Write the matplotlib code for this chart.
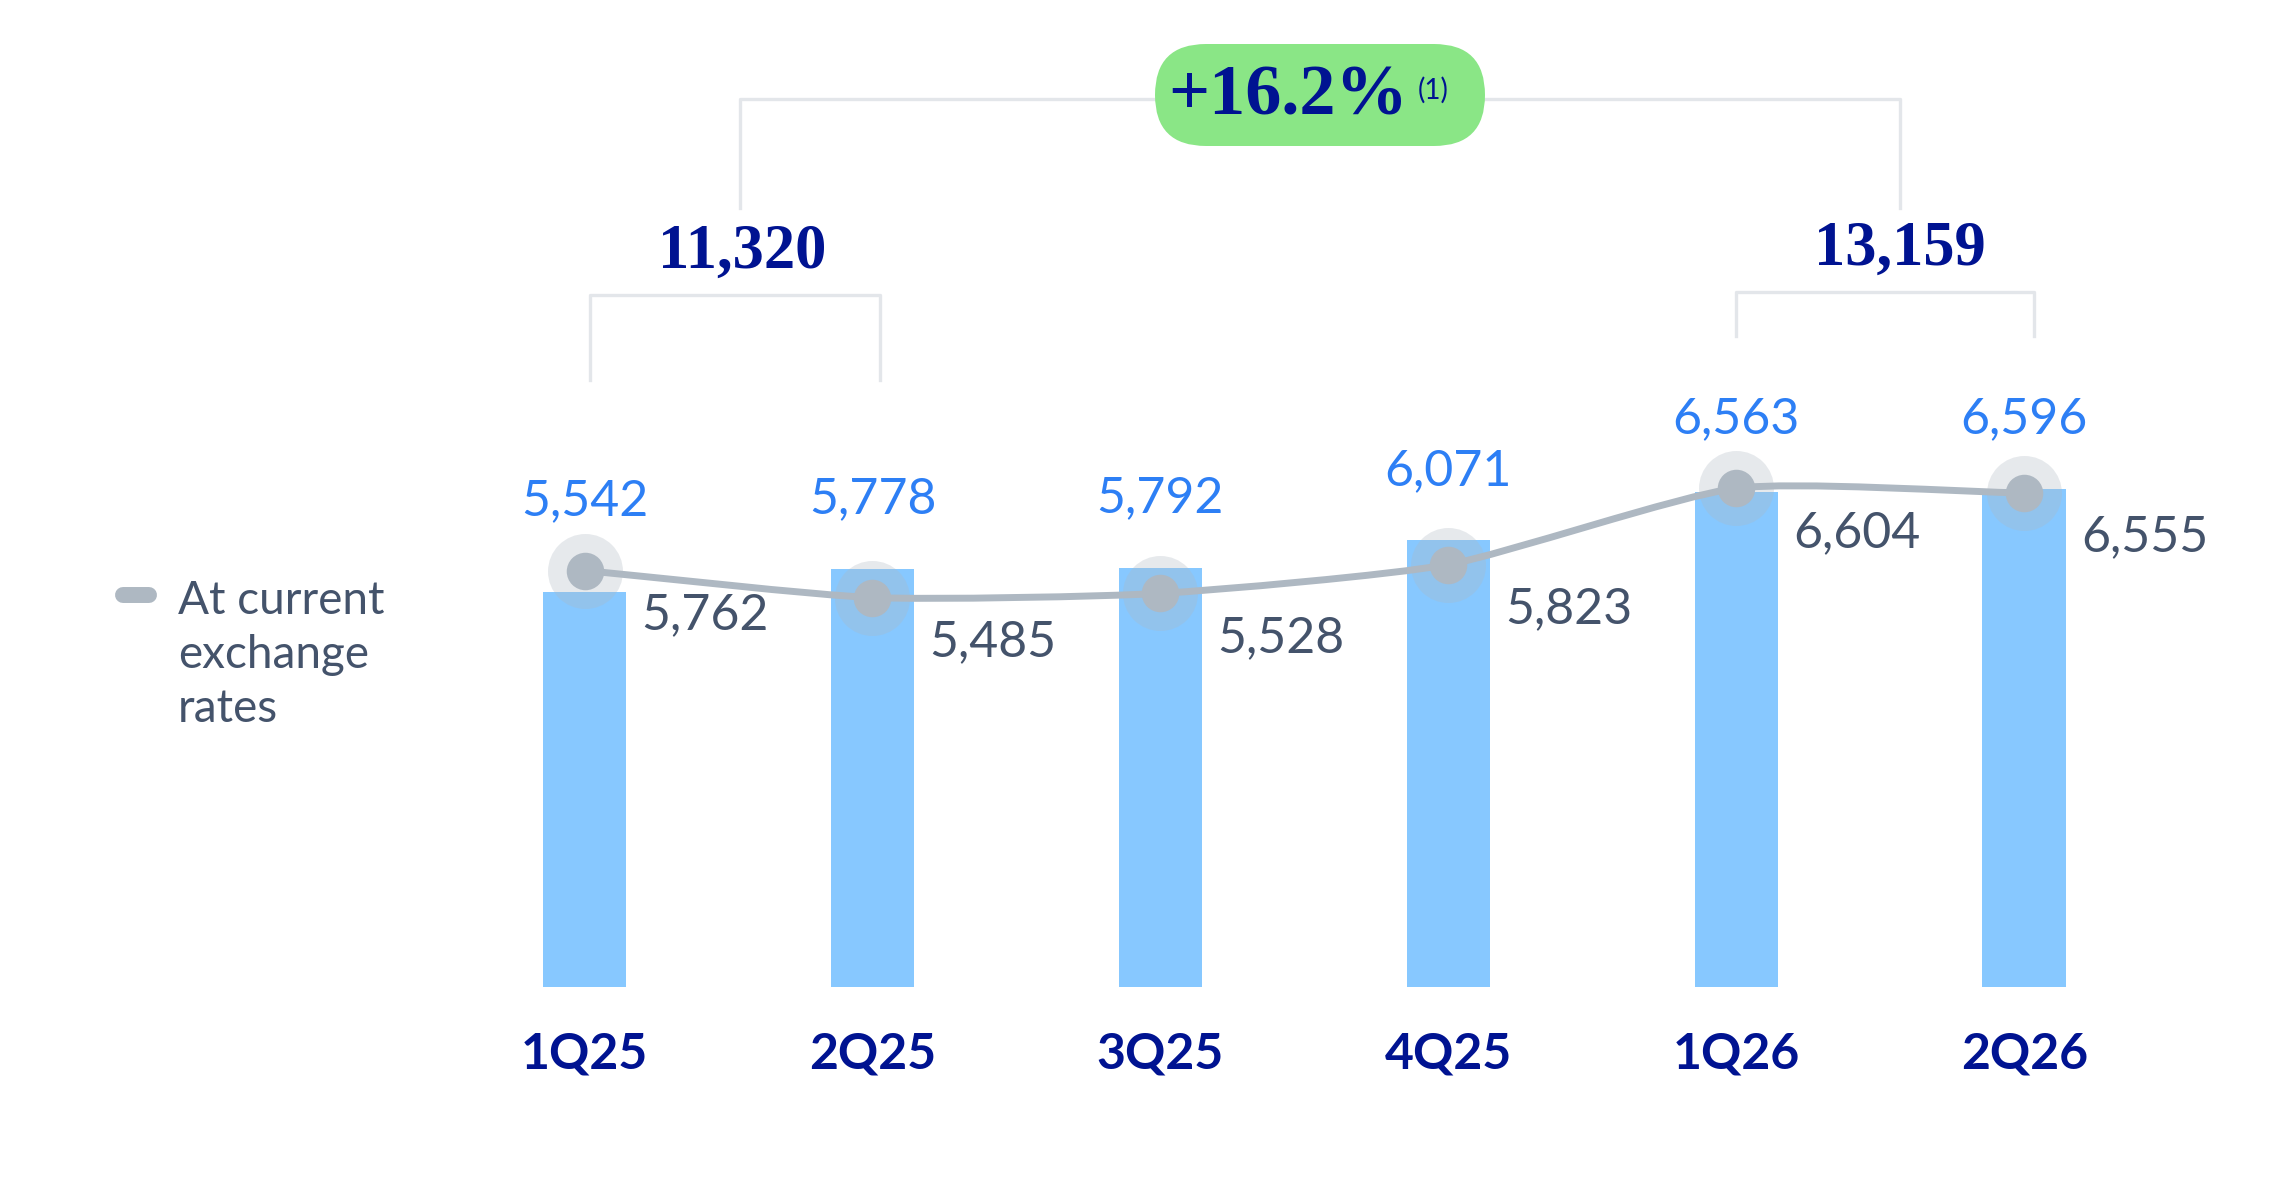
import numpy as np
import matplotlib.pyplot as plt
from matplotlib.patches import FancyBboxPatch, PathPatch
from matplotlib.lines import Line2D
from matplotlib.path import Path

plt.rcParams['font.family'] = ['Lato', 'DejaVu Sans']

# Data
quarters = ["1Q25", "2Q25", "3Q25", "4Q25", "1Q26", "2Q26"]
constant_fx = [5542, 5778, 5792, 6071, 6563, 6596]
current_fx = [5762, 5485, 5528, 5823, 6604, 6555]
half_totals = [11320, 13159]
growth_label = "+16.2%"
note_label = "(1)"
legend_label = "At current\nexchange\nrates"

# Colours
BAR = "#87C8FF"
BLUE = "#2D7FF5"
GRAY_TXT = "#44536B"
LINE = "#AEB8C2"
NAVY = "#001391"
BRACKET = "#E3E6EA"
GREEN = "#8AE686"

fig = plt.figure(figsize=(22.92, 11.88), dpi=100)
ax = fig.add_axes([0, 201 / 1188, 1, 987 / 1188])
x = np.arange(len(quarters))
ax.set_xlim(-2.03, 5.93)
ax.set_ylim(1500, 11600)

# bars
ax.bar(x, constant_fx, width=0.29, color=BAR, zorder=1)

# smooth line through the current fx points (cubic bezier segments)
pts = np.column_stack([x, current_fx]).astype(float)
n = len(pts)
tang = np.zeros_like(pts)
for i in range(n):
    if i == 0:
        tang[i] = pts[1] - pts[0]
    elif i == n - 1:
        tang[i] = pts[-1] - pts[-2]
    else:
        tang[i] = (pts[i + 1] - pts[i - 1]) / 2
tang *= 0.6
verts = [pts[0]]
codes = [Path.MOVETO]
for i in range(n - 1):
    verts += [pts[i] + tang[i] / 3, pts[i + 1] - tang[i + 1] / 3, pts[i + 1]]
    codes += [Path.CURVE4] * 3
ax.add_patch(PathPatch(Path(verts, codes), fill=False, edgecolor=LINE,
                       lw=5, capstyle='round', zorder=3))

ax.scatter(x, current_fx, s=54 ** 2, color=LINE, alpha=0.3, linewidths=0, zorder=2)
ax.scatter(x, current_fx, s=27 ** 2, color=LINE, linewidths=0, zorder=4)

# value labels
for xi, b, c in zip(x, constant_fx, current_fx):
    ax.annotate(f"{b:,}", (xi, max(b, c)), xytext=(0, 50), textcoords='offset points',
                ha='center', va='center', fontsize=36, color=BLUE, zorder=5)
    ax.annotate(f"{c:,}", (xi, c), xytext=(87, -32), textcoords='offset points',
                ha='center', va='center', fontsize=36, color=GRAY_TXT, zorder=5)

# brackets
trans = ax.get_xaxis_transform()
ax.plot([0.02, 0.02, 1.025, 1.025], [0.615, 0.701, 0.701, 0.615], transform=trans,
        color=BRACKET, lw=2.4, clip_on=False)
ax.plot([4.0, 4.0, 5.035, 5.035], [0.660, 0.704, 0.704, 0.660], transform=trans,
        color=BRACKET, lw=2.4, clip_on=False)
ax.plot([0.54, 0.54, 4.567, 4.567], [0.789, 0.900, 0.900, 0.789], transform=trans,
        color=BRACKET, lw=2.4, clip_on=False)
serif = dict(family='Liberation Serif', fontweight='bold', color=NAVY,
             ha='center', va='center')
ax.text(0.548, 0.744, f"{half_totals[0]:,}", transform=trans, fontsize=45, **serif)
ax.text(4.567, 0.747, f"{half_totals[1]:,}", transform=trans, fontsize=45, **serif)

# growth badge
badge = FancyBboxPatch((11.55, 10.42), 3.30, 1.02, boxstyle="round,pad=0,rounding_size=0.51",
                       transform=fig.dpi_scale_trans, facecolor=GREEN, edgecolor='none', zorder=6)
fig.add_artist(badge)
fig.text(12.88, 10.91, growth_label, transform=fig.dpi_scale_trans, fontsize=52,
         zorder=7, **serif)
fig.text(14.33, 10.98, note_label, transform=fig.dpi_scale_trans, fontsize=20,
         color=NAVY, ha='center', va='center', zorder=7)

# legend
fig.add_artist(Line2D([1.23, 1.49], [5.93, 5.93], transform=fig.dpi_scale_trans,
                      color=LINE, lw=11.5, solid_capstyle='round'))
fig.text(1.78, 5.33, legend_label, transform=fig.dpi_scale_trans, fontsize=33,
         color=GRAY_TXT, ha='left', va='center', linespacing=1.35)

# axes styling
ax.set_xticks(x, quarters, fontsize=36, fontweight='bold', color=NAVY)
ax.tick_params(axis='x', length=0, pad=32)
ax.set_yticks([])
for s in ax.spines.values():
    s.set_visible(False)

fig.savefig("out.png", dpi=100)
